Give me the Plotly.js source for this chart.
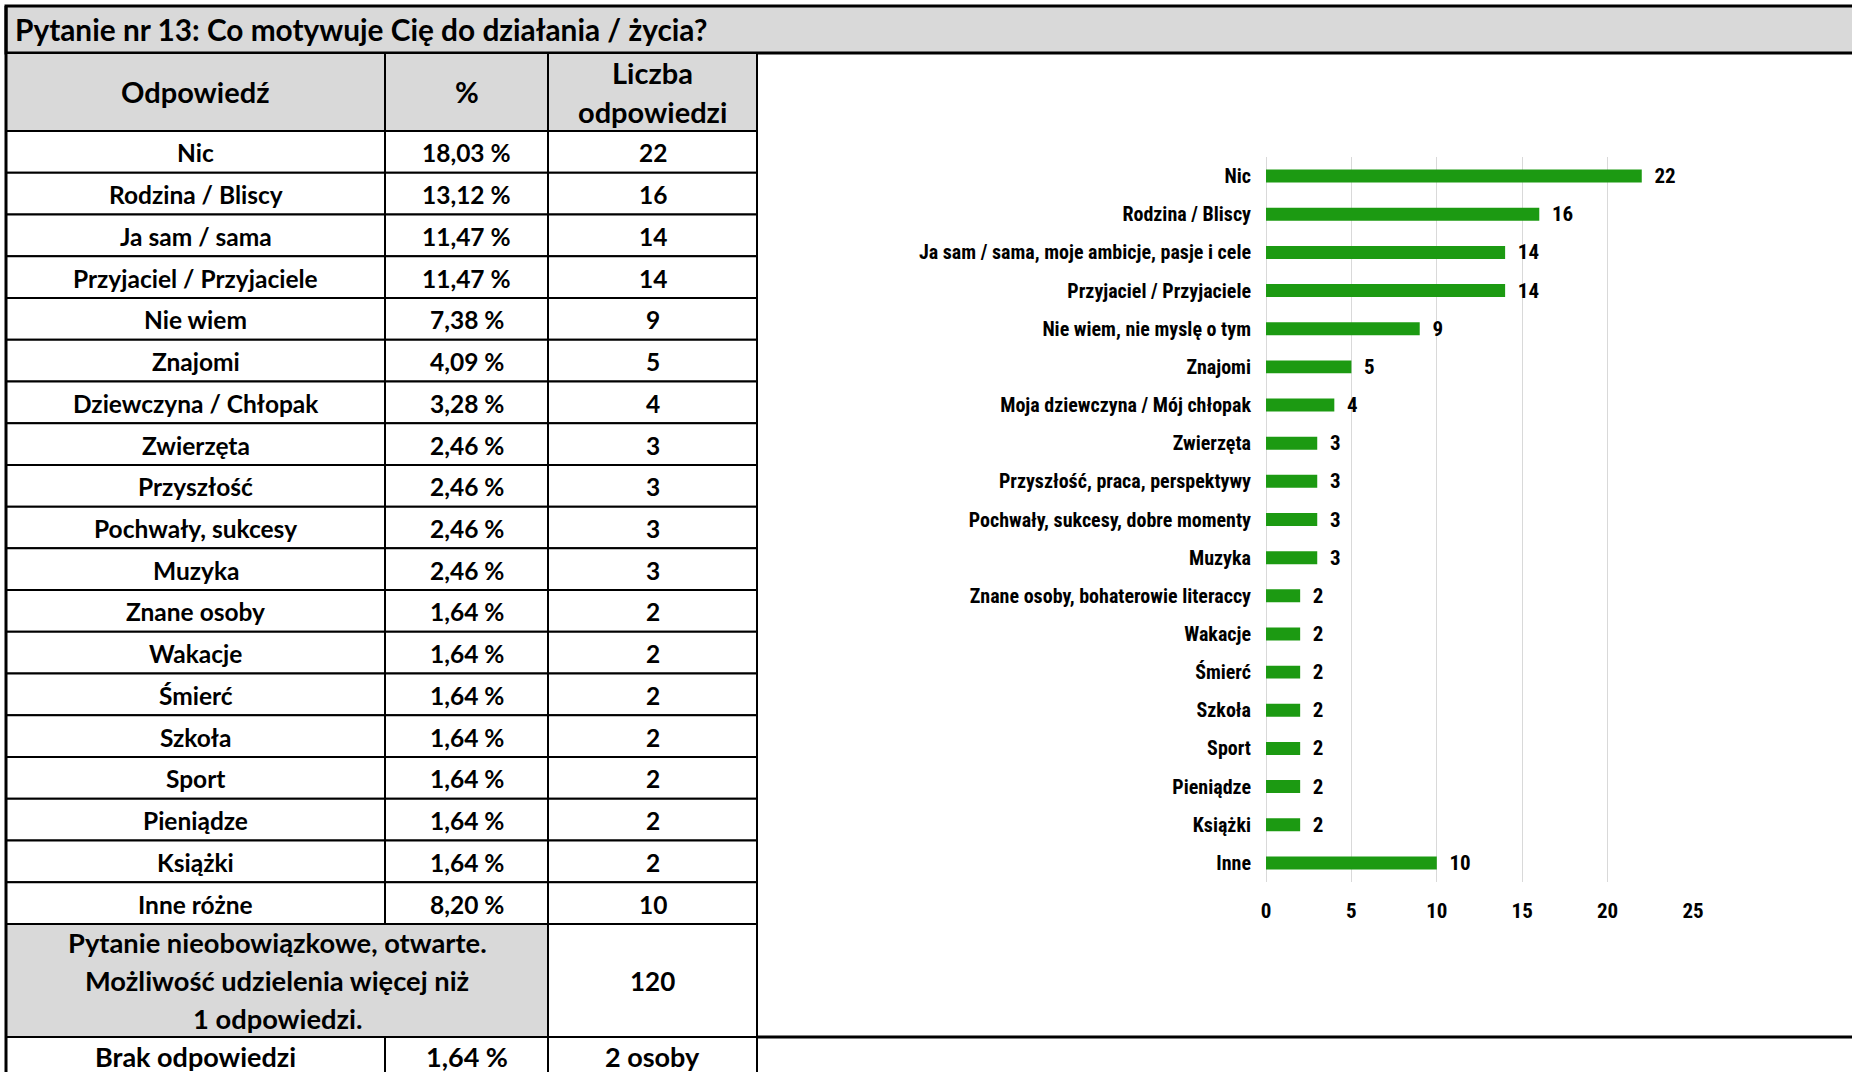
<!DOCTYPE html>
<html>
<head>
<meta charset="utf-8">
<script src="https://cdn.plot.ly/plotly-3.0.1.min.js"></script>
<style>html,body{margin:0;padding:0;background:#fff;}#chart{width:1852px;height:1072px;}</style>
</head>
<body>
<div id="chart"></div>
<script>
// ---------- DATA ----------
const titleText = 'Pytanie nr 13: Co motywuje Cię do działania / życia?';
const headerLabels = ['Odpowiedź', '%', 'Liczba<br>odpowiedzi'];
const tableAnswers = ['Nic', 'Rodzina / Bliscy', 'Ja sam / sama', 'Przyjaciel / Przyjaciele', 'Nie wiem', 'Znajomi',
  'Dziewczyna / Chłopak', 'Zwierzęta', 'Przyszłość', 'Pochwały, sukcesy', 'Muzyka', 'Znane osoby', 'Wakacje',
  'Śmierć', 'Szkoła', 'Sport', 'Pieniądze', 'Książki', 'Inne różne'];
const tablePercents = ['18,03 %', '13,12 %', '11,47 %', '11,47 %', '7,38 %', '4,09 %', '3,28 %', '2,46 %', '2,46 %',
  '2,46 %', '2,46 %', '1,64 %', '1,64 %', '1,64 %', '1,64 %', '1,64 %', '1,64 %', '1,64 %', '8,20 %'];
const tableCounts = [22, 16, 14, 14, 9, 5, 4, 3, 3, 3, 3, 2, 2, 2, 2, 2, 2, 2, 10];
const noteLines = ['Pytanie nieobowiązkowe, otwarte.', 'Możliwość udzielenia więcej niż', '1 odpowiedzi.'];
const totalAnswers = '120';
const missingRow = ['Brak odpowiedzi', '1,64 %', '2 osoby'];

const chartLabels = ['Nic', 'Rodzina / Bliscy', 'Ja sam / sama, moje ambicje, pasje i cele', 'Przyjaciel / Przyjaciele',
  'Nie wiem, nie myslę o tym', 'Znajomi', 'Moja dziewczyna / Mój chłopak', 'Zwierzęta', 'Przyszłość, praca, perspektywy',
  'Pochwały, sukcesy, dobre momenty', 'Muzyka', 'Znane osoby, bohaterowie literaccy', 'Wakacje', 'Śmierć', 'Szkoła',
  'Sport', 'Pieniądze', 'Książki', 'Inne'];
const chartValues = [22, 16, 14, 14, 9, 5, 4, 3, 3, 3, 3, 2, 2, 2, 2, 2, 2, 2, 10];

// ---------- LAYOUT GEOMETRY ----------
const W = 1852, H = 1072;
const px = x => x / W;
const py = y => 1 - y / H;
const colX = [6, 385, 548, 757];
const titleTop = 6, titleBot = 53, headBot = 131, dataBot = 924, noteBot = 1037, lastBot = 1090;
const rowH = (dataBot - headBot) / tableAnswers.length;
const GRAY = '#d9d9d9';
const TFONT = 'Lato, "Open Sans", sans-serif';
const CFONT = '"Roboto Condensed", "Liberation Sans Narrow", "Liberation Sans", Arial, sans-serif';

const shapes = [];
const annotations = [];
function cell(x0, x1, y0, y1, fill, lw) {
  shapes.push({type: 'rect', xref: 'paper', yref: 'paper', x0: px(x0), x1: px(x1), y0: py(y1), y1: py(y0),
    fillcolor: fill, line: {color: '#000', width: lw || 2}, layer: 'below'});
}
function text(t, x, y, size, anchor) {
  annotations.push({xref: 'paper', yref: 'paper', x: px(x), y: py(y), text: t, showarrow: false,
    xanchor: anchor || 'center', yanchor: 'middle',
    font: {family: TFONT, size: size, color: '#000', weight: 700}});
}

// title row
cell(titleTop, W + 10, titleTop, titleBot, GRAY, 3);
text(titleText, 13, 29, 29.8, 'left');
// header row
for (let c = 0; c < 3; c++) {
  cell(colX[c], colX[c + 1], titleBot, headBot, GRAY, 2);
  const parts = headerLabels[c].split('<br>');
  const cx = (colX[c] + colX[c + 1]) / 2;
  const cy = (titleBot + headBot) / 2;
  parts.forEach((p, i) => text(p, cx, cy + (i - (parts.length - 1) / 2) * 39, 29));
}
// data rows
for (let r = 0; r < tableAnswers.length; r++) {
  const y0 = headBot + r * rowH, y1 = y0 + rowH, cy = (y0 + y1) / 2 + 1;
  const vals = [tableAnswers[r], tablePercents[r], String(tableCounts[r])];
  for (let c = 0; c < 3; c++) {
    cell(colX[c], colX[c + 1], y0, y1, '#ffffff', 2);
    text(vals[c], (colX[c] + colX[c + 1]) / 2, cy, 24.5);
  }
}
// note row
cell(colX[0], colX[2], dataBot, noteBot, GRAY, 2);
cell(colX[2], colX[3], dataBot, noteBot, '#ffffff', 2);
noteLines.forEach((l, i) => text(l, (colX[0] + colX[2]) / 2, (dataBot + noteBot) / 2 + (i - 1) * 38, 27.3));
text(totalAnswers, (colX[2] + colX[3]) / 2, (dataBot + noteBot) / 2, 26);
// missing row
for (let c = 0; c < 3; c++) {
  cell(colX[c], colX[c + 1], noteBot, lastBot, '#ffffff', 2);
  text(missingRow[c], (colX[c] + colX[c + 1]) / 2, 1056, 27);
}
// right panel bottom line
shapes.push({type: 'line', xref: 'paper', yref: 'paper', x0: px(colX[3]), x1: px(W + 10), y0: py(noteBot), y1: py(noteBot),
  line: {color: '#000', width: 3}, layer: 'below'});
// outer left border
shapes.push({type: 'line', xref: 'paper', yref: 'paper', x0: px(6), x1: px(6), y0: py(titleTop), y1: py(lastBot),
  line: {color: '#000', width: 3}, layer: 'below'});

// ---------- CHART ----------
const trace = {
  type: 'bar', orientation: 'h',
  x: chartValues, y: chartLabels,
  marker: {color: '#1c9a12', line: {width: 0}},
  width: 0.34,
  text: chartValues, texttemplate: '  %{x}', textposition: 'outside', cliponaxis: false, constraintext: 'none',
  textfont: {family: CFONT, size: 21, color: '#000', weight: 700},
  hoverinfo: 'skip'
};

const layout = {
  width: W, height: H,
  margin: {l: 0, r: 0, t: 0, b: 0},
  paper_bgcolor: '#fff', plot_bgcolor: 'rgba(0,0,0,0)',
  showlegend: false,
  xaxis: {
    domain: [px(1266), px(1693)], range: [0, 25], dtick: 5, tick0: 0,
    showgrid: true, gridcolor: '#d9d9d9', gridwidth: 1,
    zeroline: true, zerolinecolor: '#d9d9d9', zerolinewidth: 1, showline: false,
    ticks: 'outside', ticklen: 10, tickcolor: 'rgba(0,0,0,0)',
    tickfont: {family: CFONT, size: 21, color: '#000', weight: 700}, fixedrange: true
  },
  yaxis: {
    domain: [py(882), py(157)], type: 'category', autorange: 'reversed',
    showgrid: false, zeroline: false, showline: false,
    ticks: 'outside', ticklen: 10, tickcolor: 'rgba(0,0,0,0)',
    tickfont: {family: CFONT, size: 20, color: '#000', weight: 700}, fixedrange: true
  },
  shapes: shapes,
  annotations: annotations
};

Plotly.newPlot('chart', [trace], layout, {displayModeBar: false, staticPlot: true});
</script>
</body>
</html>
